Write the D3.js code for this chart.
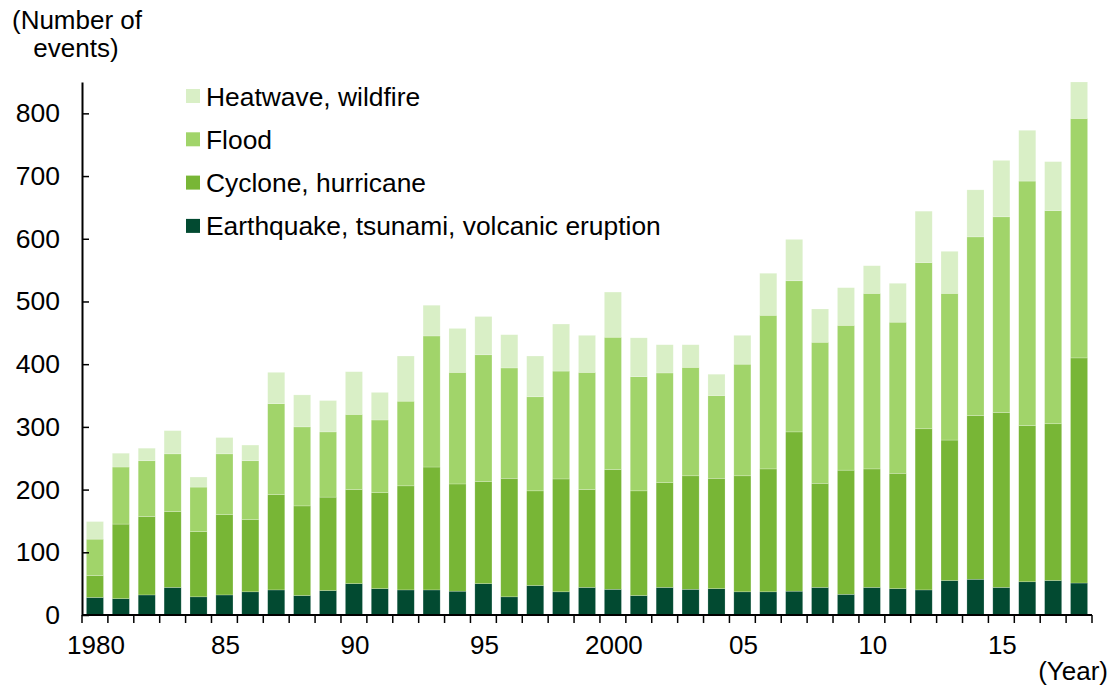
<!DOCTYPE html>
<html>
<head>
<meta charset="utf-8">
<script src="https://cdn.jsdelivr.net/npm/d3@7"></script>
<style>
  html, body { margin: 0; padding: 0; background: #fff; }
  svg { display: block; font-family: "Liberation Sans", Arial, sans-serif; }
</style>
</head>
<body>
<svg id="chart" width="1114" height="691"></svg>
<script>
// Natural catastrophes per year, by type of event
const years = d3.range(1980, 2019);
const earthquake = [28, 26, 32, 44, 29, 32, 37, 40, 31, 39, 50, 42, 40, 40, 38, 50, 29, 47, 37, 44,
                    41, 31, 44, 41, 42, 37, 37, 38, 44, 33, 44, 42, 40, 55, 57, 44, 53, 55, 51];
const cyclone    = [35, 119, 125, 121, 104, 128, 115, 152, 143, 149, 150, 153, 166, 196, 171, 163, 189, 151, 180, 156,
                    191, 167, 167, 181, 176, 185, 196, 254, 166, 198, 189, 184, 257, 224, 261, 279, 249, 250, 359];
const flood      = [58, 91, 89, 92, 71, 97, 94, 145, 126, 104, 120, 116, 135, 209, 178, 202, 176, 150, 172, 187,
                    211, 182, 175, 173, 132, 178, 245, 241, 225, 231, 280, 241, 265, 234, 285, 312, 390, 340, 382];
const heatwave   = [28, 22, 20, 37, 16, 26, 25, 50, 51, 50, 68, 44, 72, 49, 70, 61, 53, 65, 75, 59,
                    72, 62, 45, 36, 34, 46, 67, 66, 53, 60, 44, 62, 82, 67, 75, 90, 81, 78, 58];

const seriesKeys   = ["earthquake", "cyclone", "flood", "heatwave"];
const seriesLabels = ["Earthquake, tsunami, volcanic eruption", "Cyclone, hurricane", "Flood", "Heatwave, wildfire"];
const seriesColors = ["#024a31", "#78b636", "#a1d46a", "#d9efc6"];
const yTicks = [0, 100, 200, 300, 400, 500, 600, 700, 800];
const labelledYears = [1980, 1985, 1990, 1995, 2000, 2005, 2010, 2015];
const yearLabel = yr => (yr === 1980 || yr === 2000) ? String(yr) : String(yr % 100).padStart(2, "0");

const rows = years.map((yr, i) => ({
  year: yr,
  earthquake: earthquake[i],
  cyclone: cyclone[i],
  flood: flood[i],
  heatwave: heatwave[i]
}));

const FONT = 26;
const svg = d3.select("#chart");
const plotLeft = 82, plotRight = 1092, plotTop = 82, plotBottom = 615;

const x = d3.scaleBand()
  .domain(years)
  .range([plotLeft, plotRight])
  .paddingInner(0.34)
  .paddingOuter(0.17);

const y = d3.scaleLinear().domain([0, 850]).range([plotBottom, plotTop]);

const stacked = d3.stack().keys(seriesKeys)(rows);

// Stacked bars
svg.append("g")
  .selectAll("g")
  .data(stacked)
  .join("g")
    .attr("fill", (d, i) => seriesColors[i])
  .selectAll("rect")
  .data(d => d)
  .join("rect")
    .attr("x", d => x(d.data.year))
    .attr("width", x.bandwidth())
    .attr("y", d => y(d[1]))
    .attr("height", d => y(d[0]) - y(d[1]))
    .attr("stroke", "#ffffff")
    .attr("stroke-opacity", 0.35)
    .attr("stroke-width", 0.6);

// Y axis
const yAxis = svg.append("g")
  .attr("transform", `translate(${plotLeft},0)`)
  .call(d3.axisLeft(y).tickValues(yTicks).tickSize(-7).tickPadding(22).tickSizeOuter(0));
yAxis.select(".domain").attr("stroke", "#000").attr("stroke-width", 2);
yAxis.selectAll(".tick line").attr("stroke", "#000").attr("stroke-width", 1.5);
yAxis.selectAll(".tick text")
  .attr("font-size", 26.5)
  .attr("fill", "#000")
  .attr("font-family", "Liberation Sans, Arial, sans-serif");

// X axis: ticks between bars, labels under every fifth year
const xAxisG = svg.append("g").attr("transform", `translate(0,${plotBottom})`);
xAxisG.append("line")
  .attr("x1", plotLeft).attr("x2", plotRight)
  .attr("stroke", "#000").attr("stroke-width", 2);
const step = x.step();
const boundaries = d3.range(years.length + 1).map(i => x(years[0]) - step * x.paddingOuter() + i * step);
xAxisG.selectAll("line.tick")
  .data(boundaries)
  .join("line")
    .attr("class", "tick")
    .attr("x1", d => d).attr("x2", d => d)
    .attr("y1", 0).attr("y2", 8)
    .attr("stroke", "#000").attr("stroke-width", 1.5);
xAxisG.selectAll("text")
  .data(labelledYears)
  .join("text")
    .attr("x", d => x(d) + x.bandwidth() / 2 + 1)
    .attr("y", 39)
    .attr("text-anchor", "middle")
    .attr("font-size", FONT)
    .attr("fill", "#000")
    .text(yearLabel);

// Axis titles
svg.append("text")
  .attr("x", 77).attr("y", 29)
  .attr("text-anchor", "middle")
  .attr("font-size", FONT)
  .text("(Number of");
svg.append("text")
  .attr("x", 76).attr("y", 57)
  .attr("text-anchor", "middle")
  .attr("font-size", FONT)
  .text("events)");
svg.append("text")
  .attr("x", 1108).attr("y", 680)
  .attr("text-anchor", "end")
  .attr("font-size", FONT)
  .text("(Year)");

// Legend, top layer first
const legendOrder = [3, 2, 1, 0];
const legend = svg.append("g");
legendOrder.forEach((si, row) => {
  const ly = 89 + row * 43.3;
  legend.append("rect")
    .attr("x", 186).attr("y", ly)
    .attr("width", 14).attr("height", 14)
    .attr("fill", seriesColors[si]);
  legend.append("text")
    .attr("x", 206).attr("y", ly + 16.5)
    .attr("font-size", 26.4)
    .attr("fill", "#000")
    .text(seriesLabels[si]);
});
</script>
</body>
</html>
